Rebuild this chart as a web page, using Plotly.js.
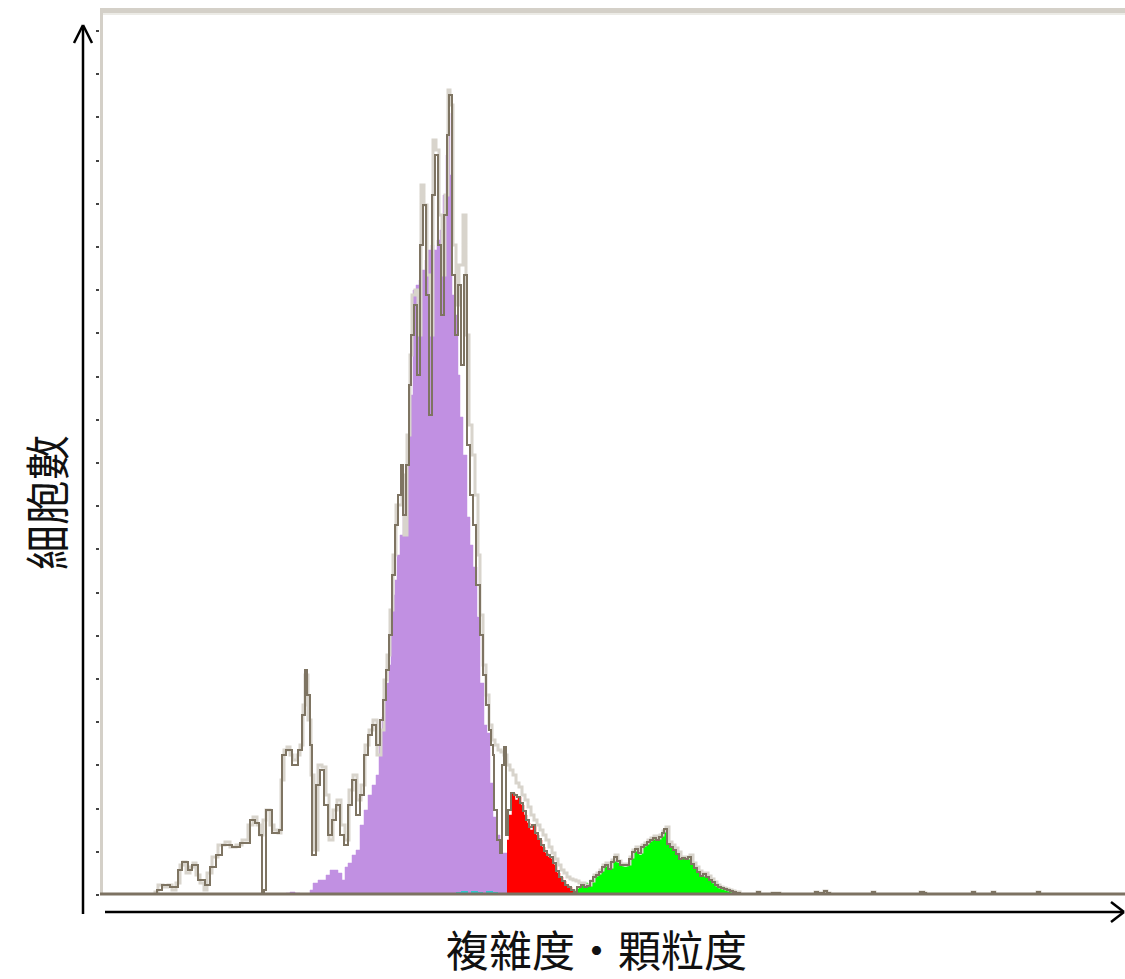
<!DOCTYPE html>
<html>
<head>
<meta charset="utf-8">
<script src="https://cdn.plot.ly/plotly-3.0.1.min.js"></script>
<style>html,body{margin:0;padding:0;background:#fff;}#chart{width:1125px;height:979px;}</style>
</head>
<body>
<div id="chart"></div>
<script>
// ---- Data (channel on x, cell count on y) ----
const allLightX = [150,155,158,163,168,172,176,180,183,186,190,193,196,200,204,207,212,218,225,230,236,242,248,253,257,260,263,266,270,274,278,281,284,287,290,293,297,300,303,305,308,311,314,318,322,326,329,333,337,341,345,349,353,357,361,365,369,373,377,381,384,387,390,393,396,399,402,404,407,410,412,415,418,421,424,427,430,433,436,439,442,445,448,450,453,456,459,463,466,469,472,475,478,480,483,486,489,492,495,498,501,504,507,510,513,516,519,522,525,528,531,534,537,540,543,546,549,552,555,558,561,564,567,570,573,576,579,582,585,588,591,594,597,600,603,606,609,612,615,618,621,624,627,630,633,636,639,642,645,648,651,654,657,660,663,666,669,672,675,678,681,684,687,690,693,696,699,702,705,708,711,714,717,720,723,726,729,732,735,740,755,757,760,770,772,778,780,812,815,818,824,827,830,870,872,875,917,920,924,926,970,972,975,990,992,995,1035,1037,1040,1125];
const allLightY = [0,3,10,8,10,5,12,30,33,22,28,32,20,12,5,22,38,50,53,48,50,55,70,78,70,60,75,85,70,65,62,115,145,148,140,135,140,150,190,220,175,120,45,130,128,100,55,85,95,70,55,105,120,95,110,150,165,175,140,165,215,240,285,340,390,390,420,360,460,540,600,605,560,710,690,620,560,755,745,680,620,700,805,790,650,590,630,680,560,470,440,400,340,280,230,200,170,155,150,145,143,140,130,125,120,112,108,100,95,88,80,75,70,65,60,55,48,42,36,30,25,22,18,16,15,14,12,12,10,10,14,20,22,25,30,32,28,35,40,34,31,30,31,38,45,48,43,50,52,55,57,59,57,60,64,68,53,50,47,43,38,38,37,40,32,28,24,20,22,19,16,13,10,8,7,6,5,4,3,0,0,3,0,0,2,2,0,0,3,2,4,2,0,0,3,0,0,3,2,0,0,3,0,0,3,0,0,3,0,0];

const allDarkX = [150,157,162,170,178,182,188,192,198,205,210,216,222,232,240,250,255,259,262,264,266,272,279,282,286,292,298,302,305,307,310,312,316,320,324,328,332,336,340,344,348,352,356,360,364,368,372,376,380,383,386,389,392,395,398,401,403,406,409,411,414,417,420,423,426,429,432,435,438,441,444,447,449,452,455,458,461,464,467,470,473,476,480,483,486,489,491,493,494,497,500,502,504,506,508,511,514,517,520,523,526,529,532,535,538,541,544,547,550,553,556,559,562,565,568,571,574,577,581,584,587,590,593,596,599,602,605,608,611,614,617,620,623,626,629,632,635,638,641,644,647,650,653,656,659,662,664,667,670,673,676,679,682,685,688,691,694,697,700,703,706,709,712,715,718,721,724,727,730,733,736,740,755,757,760,770,772,778,780,812,815,818,824,827,830,870,872,875,917,920,924,926,970,972,975,990,992,995,1035,1037,1040,1125];
const allDarkY = [0,5,10,8,25,33,25,30,15,10,28,40,50,48,52,75,72,60,0,5,85,62,65,140,145,130,145,180,225,200,150,40,110,125,90,60,75,90,60,50,90,115,80,100,140,160,170,150,175,195,225,260,320,370,400,430,380,430,510,560,590,520,650,690,600,480,700,740,650,580,680,760,800,620,560,610,530,620,450,400,370,310,260,220,190,165,150,140,85,55,42,130,148,60,85,102,100,98,92,84,75,68,70,62,56,50,44,40,38,32,24,18,14,10,8,5,3,8,10,8,9,14,18,20,23,28,30,26,33,38,34,30,30,30,36,43,46,42,48,50,53,55,57,55,58,62,66,51,48,45,41,36,37,36,38,31,27,23,19,21,18,15,13,10,8,7,6,5,4,3,2,0,0,3,0,0,2,2,0,0,3,2,4,2,0,0,3,0,0,3,2,0,0,3,0,0,3,0,0,3,0,0];

const gatePurpleX = [283,286,290,295,300,305,310,313,318,322,326,330,334,338,342,345,348,352,356,360,364,368,372,376,379,382,384,387,389,391,393,395,397,400,403,405,407,409,411,413,416,419,422,425,428,431,434,437,440,443,446,448,450,452,455,458,460,463,467,470,473,477,480,484,487,490,493,496,500,507,512,520,527,533,536];
const gatePurpleY = [0,2,3,2,0,1,5,12,15,15,20,25,25,22,15,28,32,40,45,70,85,100,110,120,150,178,200,212,230,270,300,315,340,360,380,410,440,480,500,605,610,615,625,635,645,650,645,655,665,700,740,782,720,600,580,520,478,440,378,350,328,278,212,170,162,112,78,60,42,28,20,12,5,2,0];

const gateRedX = [507,509,512,515,518,521,524,527,530,533,536,539,542,545,548,551,554,557,560,563,566,569,572,575,577];
const gateRedY = [55,80,102,95,98,90,80,72,65,70,60,55,48,42,38,36,30,22,18,14,10,8,5,2,0];

const gateGreenX = [570,573,576,579,582,585,588,591,594,597,600,603,606,608,611,615,618,621,624,627,630,633,636,639,642,645,648,651,654,657,660,663,665,667,670,673,676,679,682,685,688,691,694,697,700,703,706,709,712,715,718,721,724,727,730,733,736,740];
const gateGreenY = [0,3,6,8,10,12,10,14,18,20,22,28,30,25,32,37,32,30,28,30,35,42,45,40,48,50,53,55,57,55,58,62,65,50,48,45,40,35,36,35,38,30,26,22,18,20,18,15,13,10,8,7,6,5,4,3,2,0];

const gateCyanX = [452,457,462,467,472,477,482,487,492,497];
const gateCyanY = [0,2,3,1,3,2,1,3,2,0];

// ---- pixel helpers for decoration placement ----
const L = 100, R = 1125, TOP = 12, BASE = 895;
const W = R - L, H = BASE - TOP;
const px = x => (x - L) / W;
const py = y => (BASE - y) / H;

const fillTrace = (x, y, color) => ({
  x, y, type: 'scatter', mode: 'lines', fill: 'tozeroy',
  fillcolor: color, line: {color: color, width: 0.5, shape: 'hv'}, hoverinfo: 'skip'
});

const data = [
  fillTrace(gatePurpleX, gatePurpleY, '#c190e2'),
  fillTrace(gateRedX, gateRedY, '#ff0000'),
  fillTrace(gateGreenX, gateGreenY, '#00ff00'),
  {x: gateCyanX, y: gateCyanY, type: 'scatter', mode: 'lines', line: {color: '#30c8cc', width: 2, shape: 'hv'}, hoverinfo: 'skip'},
  {x: allLightX, y: allLightY, type: 'scatter', mode: 'lines', line: {color: '#d8d4cc', width: 3, shape: 'hv'}, hoverinfo: 'skip'},
  {x: allDarkX, y: allDarkY, type: 'scatter', mode: 'lines', line: {color: '#7e7462', width: 2, shape: 'hv'}, hoverinfo: 'skip'}
];

const line = (x0, y0, x1, y1, w, c) => ({type: 'line', xref: 'paper', yref: 'paper',
  x0: px(x0), y0: py(y0), x1: px(x1), y1: py(y1), line: {color: c || '#000', width: w}});
const rect = (x0, y0, x1, y1, c) => ({type: 'rect', xref: 'paper', yref: 'paper',
  x0: px(x0), y0: py(y0), x1: px(x1), y1: py(y1), fillcolor: c, line: {width: 0}, layer: 'below'});

const shapes = [
  rect(100, 8, 1125, 13, '#d4d0c8'),
  rect(100, 13, 1125, 15, '#ecebe6'),
  rect(100, 8, 103, 895, '#d4d0c8'),
  line(100, 894, 1125, 894, 3, '#7c7262'),
  // y arrow
  line(83, 914, 83, 26, 2.5),
  line(83, 25, 74, 43, 2.5),
  line(83, 25, 92, 43, 2.5),
  // x arrow
  line(105, 912, 1123, 912, 2.5),
  line(1124, 912, 1111, 902, 2.5),
  line(1124, 912, 1111, 922, 2.5)
];

const cjk = '"Noto Sans CJK TC", "Noto Sans CJK SC", sans-serif';
const layout = {
  width: 1125, height: 979,
  margin: {l: L, r: 1125 - R, t: TOP, b: 979 - BASE},
  paper_bgcolor: '#fff', plot_bgcolor: '#fff',
  showlegend: false, hovermode: false,
  xaxis: {range: [L, R], showgrid: false, zeroline: false, showticklabels: false, ticks: '', showline: false, fixedrange: true},
  yaxis: {range: [0, H], showgrid: false, zeroline: false, showticklabels: false, showline: false,
    ticks: 'outside', tick0: 0, dtick: 43.2, ticklen: 3, tickwidth: 2, tickcolor: '#444', fixedrange: true},
  shapes,
  annotations: [
    {text: '細胞數', xref: 'paper', yref: 'paper', x: px(45), y: py(503), textangle: -90,
     showarrow: false, xanchor: 'center', yanchor: 'middle', font: {family: cjk, size: 45, color: '#111'}},
    {text: '複雜度・顆粒度', xref: 'paper', yref: 'paper', x: px(596), y: py(948),
     showarrow: false, xanchor: 'center', yanchor: 'middle', font: {family: cjk, size: 43, color: '#111'}}
  ]
};

Plotly.newPlot('chart', data, layout, {displayModeBar: false, staticPlot: true});
</script>
</body>
</html>
